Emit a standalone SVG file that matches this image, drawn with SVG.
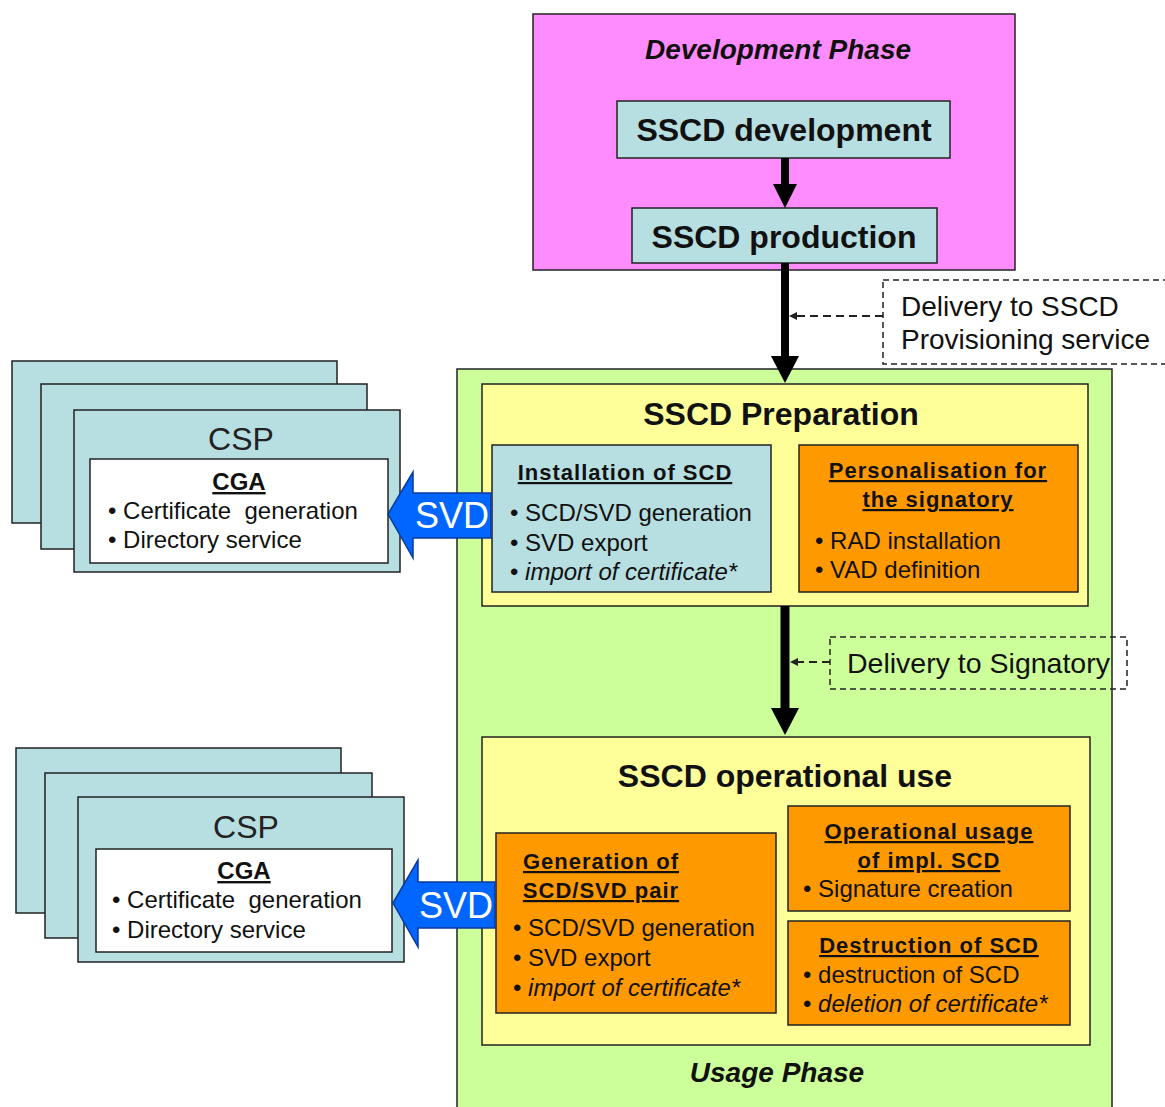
<svg xmlns="http://www.w3.org/2000/svg" width="1165" height="1107" viewBox="0 0 1165 1107">
<style>
text{font-family:"Liberation Sans",Arial,sans-serif;fill:#111}
.box{stroke:#222;stroke-width:1.5}
.teal{fill:#B7DEE0}
.mag{fill:#FF8CFF}
.grn{fill:#CCFF99}
.yel{fill:#FFFF99}
.org{fill:#FF9900}
.wht{fill:#FFFFFF}
.big{font-size:32px;font-weight:bold;text-anchor:middle}
.phase{font-size:28px;font-weight:bold;font-style:italic;text-anchor:middle}
.csp{font-size:32px;text-anchor:middle;fill:#222}
.cga{font-size:24px;font-weight:bold;text-anchor:middle;text-decoration:underline}
.ttl{font-size:22px;font-weight:bold;text-anchor:middle;text-decoration:underline;letter-spacing:1px}
.b{font-size:24px;white-space:pre}
.i{font-style:italic}
.dl{font-size:28px}
.svd{font-size:36px;fill:#fff;text-anchor:middle}
.dash{fill:none;stroke:#222;stroke-width:1.5;stroke-dasharray:6 4}
.arr{fill:#0066FF;stroke:#0A3A9A;stroke-width:1.5}
</style>

<g id="usage-phase">
<rect class="box grn" x="457" y="369" width="655" height="745"/>
<text class="phase" x="777" y="1082">Usage Phase</text>
</g>

<g id="development-phase">
<rect class="box mag" x="533" y="14" width="482" height="256"/>
<text class="phase" x="778" y="59">Development Phase</text>
</g>

<g id="sscd-development">
<rect class="box teal" x="617" y="101" width="333" height="57"/>
<text class="big" x="784" y="141">SSCD development</text>
</g>

<g id="sscd-production">
<rect class="box teal" x="632" y="208" width="305" height="55"/>
<text class="big" x="784" y="248">SSCD production</text>
</g>

<g id="delivery-provisioning">
<rect class="dash" x="883" y="280" width="290" height="84"/>
<text class="dl" x="901" y="316">Delivery to SSCD</text>
<text class="dl" x="901" y="349">Provisioning service</text>
</g>

<g id="sscd-preparation">
<rect class="box yel" x="482" y="384" width="606" height="222"/>
<text class="big" x="781" y="425">SSCD Preparation</text>
</g>

<g id="installation-of-scd">
<rect class="box teal" x="492" y="445" width="279" height="147"/>
<text class="ttl" x="625" y="480">Installation of SCD</text>
<text class="b" x="510" y="521">• SCD/SVD generation</text>
<text class="b" x="510" y="551">• SVD export</text>
<text class="b" x="510" y="580">• <tspan class="i">import of certificate*</tspan></text>
</g>

<g id="personalisation">
<rect class="box org" x="799" y="445" width="279" height="147"/>
<text class="ttl" x="938" y="478">Personalisation for</text>
<text class="ttl" x="938" y="507">the signatory</text>
<text class="b" x="815" y="549">• RAD installation</text>
<text class="b" x="815" y="578">• VAD definition</text>
</g>

<g id="delivery-signatory">
<rect class="dash" x="830" y="637" width="297" height="52"/>
<text class="dl" x="847" y="673" style="font-size:28.5px">Delivery to Signatory</text>
</g>

<g id="sscd-operational-use">
<rect class="box yel" x="482" y="737" width="608" height="308"/>
<text class="big" x="785" y="787">SSCD operational use</text>
</g>

<g id="generation-pair">
<rect class="box org" x="496" y="833" width="280" height="180"/>
<text class="ttl" x="601" y="869">Generation of</text>
<text class="ttl" x="601" y="898">SCD/SVD pair</text>
<text class="b" x="513" y="936">• SCD/SVD generation</text>
<text class="b" x="513" y="966">• SVD export</text>
<text class="b" x="513" y="996">• <tspan class="i">import of certificate*</tspan></text>
</g>

<g id="operational-usage">
<rect class="box org" x="788" y="806" width="282" height="105"/>
<text class="ttl" x="929" y="839">Operational usage</text>
<text class="ttl" x="929" y="868">of impl. SCD</text>
<text class="b" x="803" y="897">• Signature creation</text>
</g>

<g id="destruction-of-scd">
<rect class="box org" x="788" y="921" width="282" height="104"/>
<text class="ttl" x="929" y="953">Destruction of SCD</text>
<text class="b" x="803" y="983">• destruction of SCD</text>
<text class="b" x="803" y="1012">• <tspan class="i">deletion of certificate*</tspan></text>
</g>

<g id="csp-top">
<rect class="box teal" x="12" y="361" width="325" height="162"/>
<rect class="box teal" x="41" y="384" width="326" height="165"/>
<rect class="box teal" x="74" y="410" width="326" height="162"/>
<text class="csp" x="241" y="450">CSP</text>
<rect class="box wht" x="90" y="459" width="298" height="104"/>
<text class="cga" x="239" y="490">CGA</text>
<text class="b" x="108" y="519">• Certificate  generation</text>
<text class="b" x="108" y="548">• Directory service</text>
</g>

<g id="csp-bottom">
<rect class="box teal" x="16" y="748" width="325" height="165"/>
<rect class="box teal" x="45" y="773" width="327" height="165"/>
<rect class="box teal" x="78" y="797" width="326" height="165"/>
<text class="csp" x="246" y="838">CSP</text>
<rect class="box wht" x="96" y="849" width="296" height="103"/>
<text class="cga" x="244" y="879">CGA</text>
<text class="b" x="112" y="908">• Certificate  generation</text>
<text class="b" x="112" y="938">• Directory service</text>
</g>

<g id="connectors">
<line x1="785" y1="158" x2="785" y2="186" stroke="#000" stroke-width="8"/>
<polygon points="773,184 797,184 785,208" fill="#000"/>
<line x1="785" y1="263" x2="785" y2="358" stroke="#000" stroke-width="8"/>
<polygon points="771,356 799,356 785,383" fill="#000"/>
<line x1="785" y1="606" x2="785" y2="710" stroke="#000" stroke-width="9"/>
<polygon points="771,708 799,708 785,735" fill="#000"/>
<line x1="883" y1="316" x2="796" y2="316" stroke="#222" stroke-width="2" stroke-dasharray="8 5"/>
<polygon points="789,316 797,312 797,320" fill="#222"/>
<line x1="830" y1="662" x2="797" y2="662" stroke="#222" stroke-width="2" stroke-dasharray="8 5"/>
<polygon points="790,662 798,658 798,666" fill="#222"/>
<g id="svd-top">
<polygon class="arr" points="388,514 413,472 413,493 491,493 491,538 413,538 413,558"/>
<text class="svd" x="452" y="528">SVD</text>
</g>
<g id="svd-bottom">
<polygon class="arr" points="393,903 418,860 418,882 495,882 495,928 418,928 418,947"/>
<text class="svd" x="456" y="918">SVD</text>
</g>
</g>
</svg>
